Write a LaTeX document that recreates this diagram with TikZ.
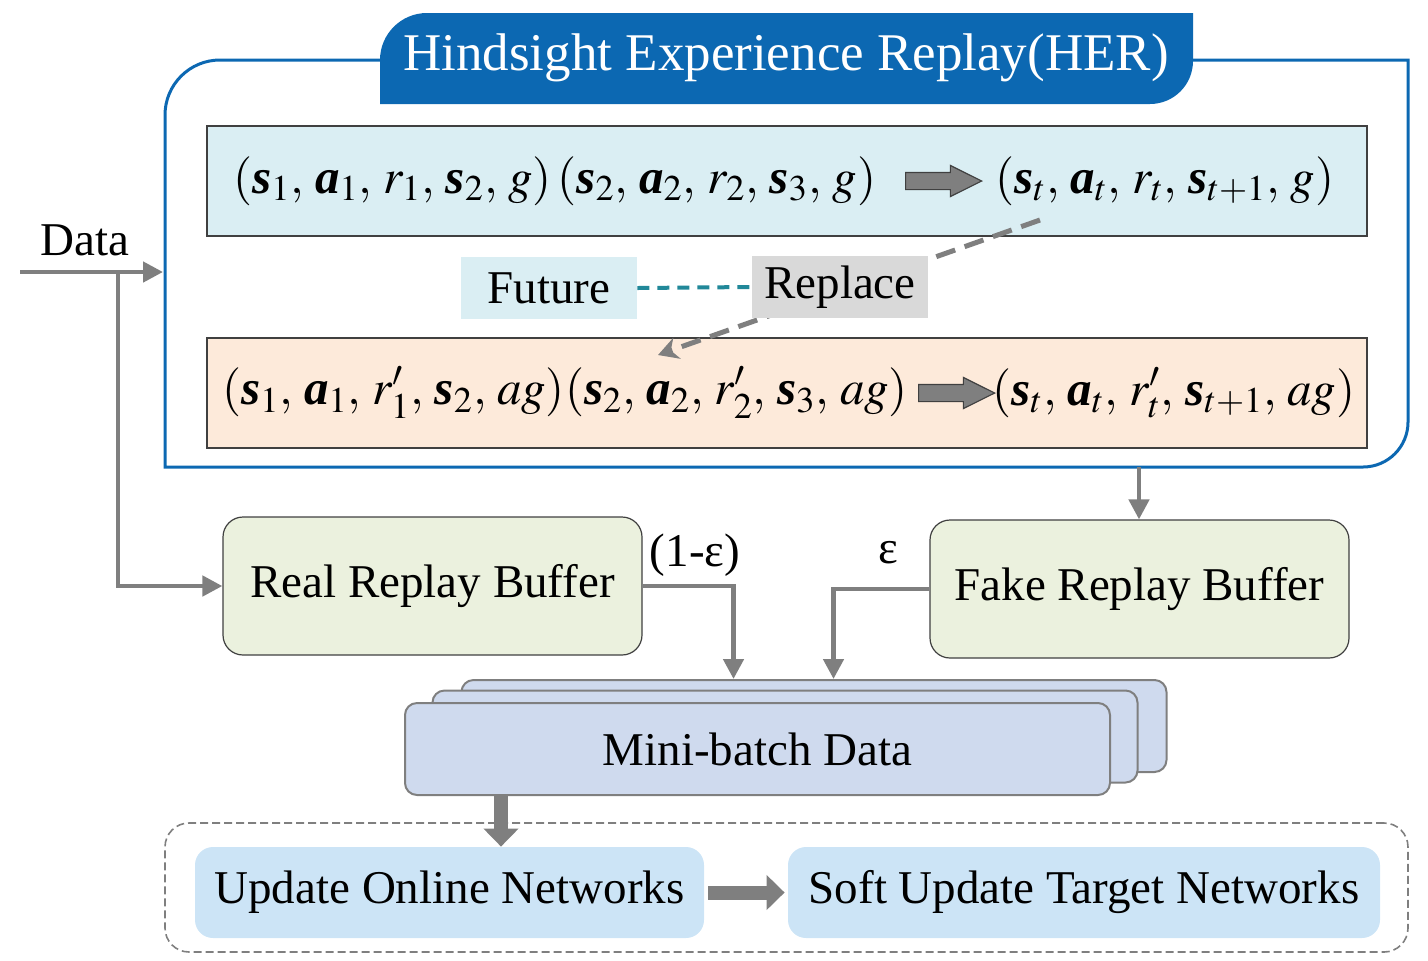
\documentclass[tikz,border=0pt]{standalone}
\usepackage{amsmath}
\usepackage{mathptmx}
\usepackage[no-math]{fontspec}
\setmainfont{Liberation Serif}
\usetikzlibrary{arrows.meta,shapes.arrows}

\definecolor{herblue}{RGB}{12,104,178}
\definecolor{tupleblue}{RGB}{218,238,243}
\definecolor{hindpeach}{RGB}{253,234,218}
\definecolor{bufgreen}{RGB}{235,241,222}
\definecolor{cardblue}{RGB}{207,218,238}
\definecolor{netblue}{RGB}{204,228,246}
\definecolor{replgray}{RGB}{217,217,217}
\definecolor{futteal}{RGB}{33,136,153}
\definecolor{flowgray}{RGB}{127,127,127}
\definecolor{edgegray}{RGB}{64,64,64}

\newcommand{\vs}{\text{\bfseries\itshape s}}
\newcommand{\va}{\text{\bfseries\itshape a}}
\newcommand{\cm}{,\,}

\begin{document}
\begin{tikzpicture}[x=0.5pt, y=-0.5pt,
  lbl/.style={font=\fontsize{23.5}{27}\selectfont, inner sep=0pt},
  tuplebox/.style={draw=edgegray, line width=0.6pt, minimum width=580pt, minimum height=55pt},
  tupletext/.style={font=\fontsize{24.5}{29}\selectfont, inner sep=0pt, anchor=west},
  blockarrow/.style={single arrow, draw=edgegray, fill=flowgray, line width=0.6pt,
    minimum height=38pt, inner sep=4pt, single arrow head extend=3.5pt,
    single arrow head indent=0pt, single arrow tip angle=53},
  tagbox/.style={lbl, minimum width=88pt, minimum height=31pt},
  bufbox/.style={lbl, draw=edgegray, line width=0.6pt, fill=bufgreen, rounded corners=10pt,
    minimum width=209.5pt, minimum height=69pt},
  card/.style={lbl, draw=flowgray, line width=1pt, fill=cardblue, rounded corners=6pt,
    minimum width=352.5pt, minimum height=46pt},
  netbox/.style={lbl, fill=netblue, rounded corners=9pt, minimum height=45.5pt},
  flow/.style={draw=flowgray, line width=2.3pt, -{Triangle[length=10pt,width=10pt]}},
  bigflow/.style={draw=flowgray, line width=7pt, -{Triangle[length=9pt,width=17pt]}},
  herline/.style={draw=herblue, line width=1.5pt}]

\useasboundingbox (0,0) rectangle (1428,960);

% HER frame and title tab
\draw[herline] (380,60) -- (220,60) arc[start angle=90, end angle=180, radius=27.5pt]
  -- (165,467) -- (1363,467) arc[start angle=270, end angle=360, radius=22.5pt]
  -- (1408,60) -- (1193,60);
\fill[herblue] (380,104) -- (380,60) arc[start angle=180, end angle=90, radius=23.5pt]
  -- (1193,13) -- (1193,61) arc[start angle=0, end angle=-90, radius=21.5pt] -- cycle;
\node[font=\fontsize{26.5}{30}\selectfont, text=white, inner sep=0pt] (hertitle) at (786,58) {Hindsight Experience Replay(HER)};

% original goal row
\node[tuplebox, fill=tupleblue] (origrow) at (787,181) {};
\node[tupletext] (origseq) at (233,181) {$(\vs_1\cm \va_1\cm r_1\cm \vs_2\cm g)\,(\vs_2\cm \va_2\cm r_2\cm \vs_3\cm g)$};
\node[blockarrow] (origarr) at (935,181) {};
\node[tupletext] (origlast) at (995,181) {$(\vs_t\cm \va_t\cm r_t\cm \vs_{t+1}\cm g)$};

% achieved goal row
\node[tuplebox, fill=hindpeach] (hindrow) at (787,393) {};
\node[tupletext] (hindseq) at (222,393) {$(\vs_1\cm \va_1\cm r'_1\cm \vs_2\cm ag)(\vs_2\cm \va_2\cm r'_2\cm \vs_3\cm ag)$};
\node[blockarrow] (hindarr) at (948,393) {};
\node[tupletext] (hindlast) at (992,393) {$(\vs_t\cm \va_t\cm r'_t\cm \vs_{t+1}\cm ag)$};

% relabelling
\coordinate (replfrom) at (1040,220);
\coordinate (replto) at (658,355);
\draw[draw=flowgray, line width=2.5pt, dash pattern=on 10pt off 5pt,
  -{Stealth[length=10pt,width=11pt]}] (replfrom) -- (replto);
\node[tagbox, fill=tupleblue] (future) at (549,288) {Future};
\node[tagbox, fill=replgray] (replace) at (840,287) {Replace};
\draw[draw=futteal, line width=2pt, dash pattern=on 6pt off 4pt] (future.east) -- (replace.west);

% data input
\node[lbl] (datalbl) at (85,240) {Data};
\coordinate (datain) at (20,272);
\coordinate (herin) at (163,272);
\coordinate (split) at (118,272);
\draw[flow] (datain) -- (herin);

% replay buffers
\node[bufbox] (realbuf) at (432.5,586) {Real Replay Buffer};
\node[bufbox] (fakebuf) at (1139.5,589) {Fake Replay Buffer};
\draw[flow] (split) |- (realbuf.west);
\coordinate (herbot) at (1139,467);
\draw[flow] (herbot) -- (herbot |- fakebuf.north);

% mini-batch stack
\node[card] (mbback) at (814,726) {};
\node[card] (mbmid) at (785,736.5) {};
\node[card] (mbfront) at (757.5,749) {Mini-batch Data};

\draw[flow] (realbuf.east) -| ([xshift=136.5pt]mbback.north west);
\draw[flow] (fakebuf.west) -| ([xshift=186.5pt]mbback.north west);
\node[lbl] (epsreal) at (695,555) {(1-ε)};
\node[lbl] (epsfake) at (888,553) {ε};

% network updates
\node[draw=flowgray, line width=0.8pt, dash pattern=on 4pt off 2pt, rounded corners=12pt,
  minimum width=621.5pt, minimum height=64.5pt] (netgroup) at (786.5,887.5) {};
\node[netbox, minimum width=254.5pt] (onlinenet) at (449.5,892.5) {Update Online Networks};
\node[netbox, minimum width=296pt] (softnet) at (1084,892.5) {Soft Update Target Networks};

\coordinate (mbout) at ([xshift=48.5pt]mbfront.south west);
\draw[bigflow] (mbout) -- (mbout |- onlinenet.north);
\draw[bigflow, shorten <=2pt, shorten >=1.5pt] (onlinenet.east) -- (softnet.west);

\end{tikzpicture}
\end{document}
